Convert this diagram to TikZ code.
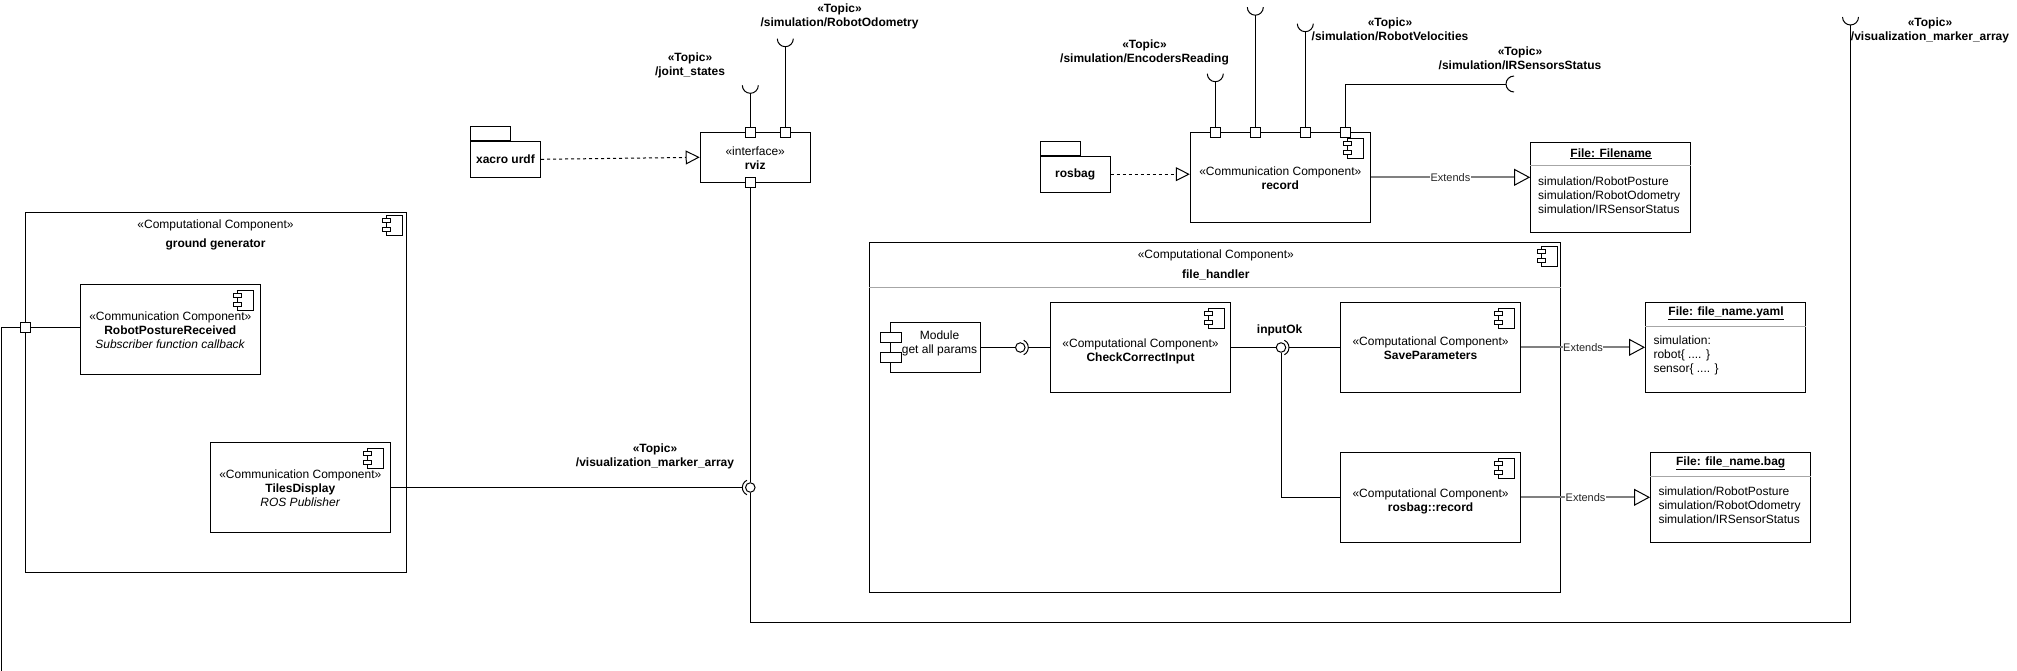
\documentclass[tikz,border=0pt]{standalone}
\usepackage{fontspec}
\setmainfont{Liberation Sans}
\usetikzlibrary{arrows.meta,calc}
\definecolor{sepgray}{HTML}{A6A6A6}
\definecolor{extgray}{HTML}{808080}
\tikzset{
  compicon/.pic={
    \draw[fill=white] (-16,0) rectangle (0,20);
    \draw[fill=white] (-20,3) rectangle (-12,7);
    \draw[fill=white] (-20,12) rectangle (-12,16);
  },
  sockU/.pic={\draw (-8,-8) arc[start angle=180,end angle=0,radius=8];},
  sockL/.pic={\draw (8,-8) arc[start angle=270,end angle=90,radius=8];},
}
\begin{document}
\begin{tikzpicture}[x=1pt,y=-1pt,line width=1pt,
  font=\fontsize{12}{14}\selectfont,
  box/.style={draw,rectangle,inner sep=0pt,fill=white},
  port/.style={draw,fill=white,minimum size=10pt,inner sep=0pt},
  txt/.style={align=center,inner sep=0pt},
  bold/.style={align=center,inner sep=0pt,font=\fontsize{12}{14}\selectfont\bfseries},
  ball/.style={draw,circle,minimum size=9.5pt,inner sep=0pt,fill=white},
  dep/.style={dash pattern=on 3pt off 3pt,-{Triangle[length=14pt,width=14pt,fill=white]}},
  ext/.style={extgray,line width=2pt,-{Triangle[length=16pt,width=17pt,color=black,fill=white,line width=1pt]}},
  extlbl/.style={fill=white,inner sep=0.5pt,text=black!85,font=\fontsize{11}{13}\selectfont},
  sep/.style={sepgray,line width=1pt},
]
\fill[white] (0,0) rectangle (2017,670);
\useasboundingbox (0,0) rectangle (2017,670);

% ---------------- ground generator ----------------
\node[box,minimum width=381pt,minimum height=360pt] (gg) at (215.5,392) {};
\node[txt] (ggS) at (215.5,225) {«Computational Component»};
\node[bold] (ggN) at (215.5,244) {ground generator};
\pic at ([xshift=-4pt,yshift=-4pt]gg.north east) {compicon};

\node[box,minimum width=180pt,minimum height=90pt] (rpr) at (170.3,329.2) {};
\node[txt] (rprT) at (170.3,329.8) {«Communication Component»\\\textbf{RobotPostureReceived}\\\textit{Subscriber function callback}};
\pic at ([xshift=-7pt,yshift=-7pt]rpr.north east) {compicon};

\node[box,minimum width=180pt,minimum height=90pt] (tiles) at (300.3,487.3) {};
\node[txt] (tilesT) at (300.3,488) {«Communication Component»\\\textbf{TilesDisplay}\\\textit{ROS Publisher}};
\pic at ([xshift=-7pt,yshift=-7pt]tiles.north east) {compicon};

\coordinate (cbot) at (1,671);
\node[port] (ggp) at (25.5,327.5) {};
\draw (ggp.east) -- (ggp.east -| rpr.west);
\draw (ggp.west) -| (cbot);
\node[port] at (ggp) {};

% ---------------- xacro / rviz ----------------
\node[box,minimum width=70pt,minimum height=36pt] (xacro) at (505.5,159.3) {\textbf{xacro urdf}};
\node[box,minimum width=40pt,minimum height=14pt,anchor=south west] (xacroTab) at (xacro.north west) {};

\node[box,minimum width=110pt,minimum height=50pt] (rviz) at (755.2,157.3) {};
\node[txt] (rvizT) at (755.2,158.3) {«interface»\\\textbf{rviz}};
\draw[dep] (xacro.east) -- (rviz.west);

\coordinate (jsU) at (750.3,93.3);
\coordinate (odoU) at (785.3,46.7);
\pic at (jsU) {sockU};
\pic at (odoU) {sockU};
\node[port] (rp1) at (750.3,132.3) {};
\node[port] (rp2) at (785.3,132.3) {};
\node[port] (rp3) at (750.3,182.3) {};
\draw (rp1.north) -- (jsU);
\draw (rp2.north) -- (odoU);
\node[bold] (tJS) at (690,65.7) {«Topic»\\/joint\_states};
\node[bold] (tODO) at (839.5,16.5) {«Topic»\\/simulation/RobotOdometry};

% visualization marker array connection
\node[ball] (b3) at (750.3,487.5) {};
\draw (b3) ++(115:8) arc[start angle=115,end angle=245,radius=8];
\coordinate (s3) at (742.3,487.5);
\draw (tiles.east |- s3) -- (s3);
\draw (rp3.south) -- (b3.north);
\coordinate (c2) at (1850.5,622.3);
\coordinate (vizU) at (1850.5,25);
\draw (b3.south) |- (c2) -- (vizU);
\pic at (vizU) {sockU};
\node[bold] (tVIZ2) at (655,456) {«Topic»\\/visualization\_marker\_array};
\node[bold] (tVIZ) at (1930,30.3) {«Topic»\\/visualization\_marker\_array};

% ---------------- rosbag / record ----------------
\node[box,minimum width=70pt,minimum height=36pt] (rosbag) at (1075.2,174.2) {\textbf{rosbag}};
\node[box,minimum width=40pt,minimum height=14pt,anchor=south west] (rosbagTab) at (rosbag.north west) {};

\node[box,minimum width=180pt,minimum height=90pt] (rec) at (1280.3,177.3) {};
\node[txt] (recT) at (1280.3,178.2) {«Communication Component»\\\textbf{record}};
\pic at ([xshift=-7pt,yshift=-7pt]rec.north east) {compicon};
\draw[dep] (rosbag.east) -- (rosbag.east -| rec.west);

\coordinate (encU) at (1215.3,81.7);
\coordinate (posU) at (1255.3,15.2);
\coordinate (velU) at (1305.3,31.7);
\coordinate (irL) at (1506,84);
\pic at (encU) {sockU};
\pic at (posU) {sockU};
\pic at (velU) {sockU};
\pic at (irL) {sockL};
\node[port] (q1) at (1215.3,132.3) {};
\node[port] (q2) at (1255.3,132.3) {};
\node[port] (q3) at (1305.3,132.3) {};
\node[port] (q4) at (1345.3,132.3) {};
\draw (q1.north) -- (encU);
\draw (q2.north) -- (posU);
\draw (q3.north) -- (velU);
\draw (q4.north) |- (irL);
\node[bold] (tENC) at (1144.5,52) {«Topic»\\/simulation/EncodersReading};
\node[bold] (tVEL) at (1390,29.3) {«Topic»\\/simulation/RobotVelocities};
\node[bold] (tIR) at (1520,58) {«Topic»\\/simulation/IRSensorsStatus};

% File: Filename
\node[box,minimum width=160pt,minimum height=90pt] (fA) at (1610.6,187.5) {};
\node[bold] (fAt) at (1611,153.8) {\underline{File: Filename}};
\draw[sep] ([yshift=-23.5pt]fA.north west) -- ([yshift=-23.5pt]fA.north east);
\node[anchor=west,align=left,inner sep=0pt] (fAb) at (1537.6,195.6) {simulation/RobotPosture\\simulation/RobotOdometry\\simulation/IRSensorStatus};
\draw[ext] (rec.east |- 0,177.3) -- node[extlbl] (eA) {Extends} (fA.west |- 0,177.3);

% ---------------- file_handler ----------------
\node[box,minimum width=691pt,minimum height=350pt] (fh) at (1215.4,417.3) {};
\node[txt] (fhS) at (1215.8,255) {«Computational Component»};
\node[bold] (fhN) at (1215.8,274.5) {file\_handler};
\draw[sep] ([yshift=-46pt]fh.north west) -- ([yshift=-46pt]fh.north east);
\pic at ([xshift=-4pt,yshift=-4.5pt]fh.north east) {compicon};

\node[box,minimum width=90pt,minimum height=50pt] (mod) at (935.5,347.3) {};
\node[box,minimum width=21pt,minimum height=10pt] (modT1) at (890.5,337.3) {};
\node[box,minimum width=21pt,minimum height=10pt] (modT2) at (890.5,357.3) {};
\node[txt] (modL) at (939.5,343.3) {Module\\get all params};

\node[box,minimum width=180pt,minimum height=90pt] (cci) at (1140.5,347.3) {};
\node[txt] (cciT) at (1140.5,351.2) {«Computational Component»\\\textbf{CheckCorrectInput}};
\pic at ([xshift=-7pt,yshift=-7pt]cci.north east) {compicon};

\node[box,minimum width=180pt,minimum height=90pt] (save) at (1430.6,347.3) {};
\node[txt] (saveT) at (1430.6,348.5) {«Computational Component»\\\textbf{SaveParameters}};
\pic at ([xshift=-7pt,yshift=-7pt]save.north east) {compicon};

\node[box,minimum width=180pt,minimum height=90pt] (rbr) at (1430.6,497.3) {};
\node[txt] (rbrT) at (1430.6,501.2) {«Computational Component»\\\textbf{rosbag::record}};
\pic at ([xshift=-7pt,yshift=-7pt]rbr.north east) {compicon};

% ball & socket: module -> CheckCorrectInput
\node[ball] (b1) at (1020.3,347.5) {};
\draw (b1) ++(-65:8) arc[start angle=-65,end angle=65,radius=8];
\coordinate (s1) at (1028.3,347.5);
\draw (mod.east |- b1) -- (b1.west);
\draw (cci.west |- s1) -- (s1);

% ball & socket: inputOk
\node[ball] (b2) at (1281,347.5) {};
\draw (b2) ++(-65:8) arc[start angle=-65,end angle=65,radius=8];
\coordinate (s2) at (1289,347.5);
\draw (cci.east |- b2) -- (b2.west);
\draw (save.west |- s2) -- (s2);
\draw (b2.south) |- (rbr.west);
\node[bold] (inOk) at (1279.6,330.5) {inputOk};

% File: file_name.yaml
\node[box,minimum width=160pt,minimum height=90pt] (fB) at (1725.5,347.3) {};
\node[bold] (fBt) at (1726,313.5) {\underline{File: file\_name.yaml}};
\draw[sep] ([yshift=-24.4pt]fB.north west) -- ([yshift=-24.4pt]fB.north east);
\node[anchor=west,align=left,inner sep=0pt] (fBb) at (1653,355.3) {simulation:\\robot\{ .... \}\\sensor\{ .... \}};
\draw[ext] (save.east) -- node[extlbl] (eB) {Extends} (fB.west);

% File: file_name.bag
\node[box,minimum width=160pt,minimum height=90pt] (fC) at (1730.5,497.3) {};
\node[bold] (fCt) at (1730.7,463.5) {\underline{File: file\_name.bag}};
\draw[sep] ([yshift=-24.4pt]fC.north west) -- ([yshift=-24.4pt]fC.north east);
\node[anchor=west,align=left,inner sep=0pt] (fCb) at (1658,505) {simulation/RobotPosture\\simulation/RobotOdometry\\simulation/IRSensorStatus};
\draw[ext] (rbr.east) -- node[extlbl] (eC) {Extends} (fC.west);

\end{tikzpicture}
\end{document}
